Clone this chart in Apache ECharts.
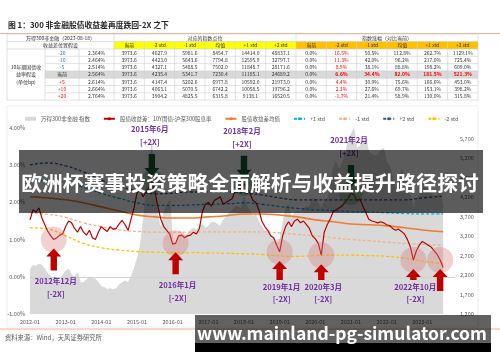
<!DOCTYPE html>
<html><head><meta charset="utf-8">
<script src="https://cdn.jsdelivr.net/npm/echarts@6/dist/echarts.min.js"></script>
<style>html,body{margin:0;padding:0;background:#fff}#c{width:500px;height:362px}</style>
</head><body><div id="c"></div>
<script>
// ---------------- DATA ----------------
const title = '图 1：300 非金融股债收益差再度跌回-2X 之下';
const sourceText = '资料来源：Wind，天风证券研究所';
const bannerText = '欧洲杯赛事投资策略全面解析与收益提升路径探讨';
const footerText = 'www.mainland-pg-simulator.com';

// table
const tableHead1 = ['万得300非金融（2023-08-18）', '对应的指数点位', '指数涨幅（对比当前）'];
const tableHead2Left = '收益差位置假设';
const stdHeaders = ['当前', '-2 std', '-1 std', '均值', '+1 std', '+2 std'];
const rowLabelLines = ['10年期国债收', '益率假设', '(单位bp)'];
const bpLabels = ['-20', '-10', '-5', '当前', '+5', '+10', '+20'];
const yieldLabels = ['2.364%', '2.464%', '2.514%', '2.564%', '2.614%', '2.664%', '2.764%'];
const indexPoints = [
  ['3973.6', '4627.9', '5981.6', '8454.7', '14414.0', '48837.1'],
  ['3973.6', '4423.0', '5643.6', '7794.8', '12595.9', '32797.7'],
  ['3973.6', '4327.1', '5488.5', '7502.0', '11848.7', '28171.6'],
  ['3973.6', '4235.4', '5341.7', '7230.4', '11185.1', '24689.2'],
  ['3973.6', '4147.4', '5202.6', '6977.8', '10592.0', '21973.0'],
  ['3973.6', '4063.1', '5070.5', '6742.2', '10058.5', '19796.2'],
  ['3973.6', '3904.2', '4825.5', '6315.8', '9138.1', '16520.5']
];
const indexGains = [
  ['0.0%', '16.5%', '50.5%', '112.8%', '262.7%', '1129.1%'],
  ['0.0%', '11.3%', '42.0%', '96.2%', '217.0%', '725.4%'],
  ['0.0%', '8.9%', '38.1%', '88.8%', '198.2%', '609.0%'],
  ['0.0%', '6.6%', '34.4%', '82.0%', '181.5%', '521.3%'],
  ['0.0%', '4.4%', '30.9%', '75.6%', '166.6%', '453.0%'],
  ['0.0%', '2.3%', '27.6%', '69.7%', '153.1%', '398.2%'],
  ['0.0%', '-1.7%', '21.4%', '58.9%', '130.0%', '315.8%']
];

// chart (monthly, 2012-01 .. 2023-08)
const xTickLabels = ['2012-01','2013-01','2014-01','2015-01','2016-01','2017-01','2018-01','2019-01','2020-01','2021-01','2022-01','2023-01'];
const leftTicks = ['-1.00%','0.00%','1.00%','2.00%','3.00%','4.00%'];
const seriesNames = ['万得300非金融 指数','股债收益差：10Y国债-沪深300股息率','股债收益差均值','+1 std','-1 std','+2 std','-2 std'];

const indexValues = [
  2330,2450,2420,2480,2450,2350,2230,2150,2140,2100,2020,2200,
  2300,2350,2200,2150,2250,2000,2000,2080,2150,2120,2100,2000,
  1900,1880,1830,1850,1820,1850,1950,2000,2050,2000,2150,2350,
  2600,2900,3500,4300,4900,5600,4400,3700,3400,3800,4000,4100,
  3100,3000,3200,3250,3200,3250,3350,3400,3350,3450,3500,3400,
  3450,3550,3550,3500,3450,3600,3700,3800,3850,3950,3950,3900,
  4200,3950,3850,3700,3750,3550,3450,3300,3350,3100,3150,3000,
  3100,3500,3900,4000,3600,3800,3850,3800,3900,3950,3950,4150,
  4150,4050,3900,4100,4100,4400,4950,5100,4900,5050,5300,5600,
  5800,5950,5450,5500,5650,5700,5350,5300,5250,5300,5400,5450,
  5100,5000,4700,4300,4500,4900,4700,4550,4250,3900,4150,4250,
  4550,4450,4400,4350,4200,4250,4300,3974
];
const spreadValues = [
  1.53,1.80,1.74,1.85,1.58,1.40,1.22,1.10,1.00,1.05,1.12,1.15,
  1.35,1.50,1.45,1.30,1.20,1.35,1.20,1.12,1.25,1.05,1.00,1.20,
  1.35,1.28,1.22,1.35,1.28,1.30,1.42,1.52,1.40,1.25,1.55,1.85,
  2.25,2.35,2.15,2.28,2.40,2.55,2.30,1.90,1.55,1.35,1.25,1.15,
  0.88,0.90,1.10,1.12,1.05,1.10,1.12,1.20,1.15,1.30,1.75,1.95,
  2.00,1.90,2.05,2.10,2.15,1.95,2.00,2.05,2.10,2.30,2.40,2.35,
  2.50,2.40,2.25,2.05,2.00,1.80,1.50,1.35,1.25,1.10,1.05,0.85,
  0.67,1.10,1.35,1.48,1.35,1.50,1.55,1.45,1.50,1.40,1.30,1.10,
  1.02,0.90,0.58,1.20,1.40,1.55,1.75,1.80,1.85,1.90,2.00,2.10,
  2.25,2.20,2.05,2.10,1.90,1.72,1.55,1.50,1.48,1.45,1.48,1.45,
  1.40,1.38,1.30,1.25,1.28,1.22,1.15,1.00,0.80,0.45,0.70,0.85,
  0.95,0.90,0.85,0.80,0.70,0.60,0.45,0.25
];
const bandMonths = [0,6,12,18,24,30,36,42,48,54,60,66,72,78,84,90,96,102,108,114,120,126,132,139];
const meanValues   = [2.15,2.12,2.07,1.99,1.88,1.77,1.66,1.61,1.58,1.58,1.61,1.64,1.69,1.69,1.66,1.61,1.53,1.48,1.42,1.40,1.37,1.32,1.26,1.21];
const plus1Values  = [2.58,2.59,2.53,2.41,2.24,2.11,1.99,1.92,1.92,1.93,1.95,1.96,1.99,1.95,1.89,1.84,1.80,1.78,1.75,1.74,1.72,1.70,1.69,1.69];
const minus1Values = [1.72,1.68,1.60,1.45,1.35,1.26,1.22,1.20,1.20,1.20,1.21,1.21,1.21,1.21,1.18,1.14,1.10,1.05,1.00,0.97,0.93,0.90,0.87,0.85];
const plus2Values  = [3.01,3.06,2.98,2.82,2.60,2.44,2.31,2.23,2.25,2.28,2.28,2.28,2.25,2.20,2.12,2.07,2.07,2.07,2.07,2.07,2.07,2.07,2.12,2.17];
const minus2Values = [1.32,1.28,1.10,0.90,0.78,0.72,0.68,0.66,0.65,0.65,0.64,0.63,0.62,0.60,0.56,0.55,0.57,0.58,0.58,0.57,0.55,0.50,0.42,0.35];

// signal annotations: label, month index where drawn (months since 2012-01)
const highSignals = [
  {label:'2015年6月', month:41},
  {label:'2018年2月', month:72},
  {label:'2021年2月', month:108}
];
const lowSignals = [
  {label:'2012年12月', month:8},
  {label:'2016年1月', month:49},
  {label:'2019年1月', month:84},
  {label:'2020年3月', month:98},
  {label:'2022年10月', month:129},
  {label:'', month:138}
];

// ---------------- CHART ----------------
const FONT = '"Noto Sans CJK SC","Noto Sans",sans-serif';
const chart = echarts.init(document.getElementById('c'), null, {renderer:'canvas'});
const pairs = (xs, ys) => ys.map((v, i) => [xs[i], v]);
const monthIdx = spreadValues.map((_, i) => i);

const bandColors = ['#ED7D31','#00B0F0','#F4B183','#2F5597','#FFC000'];
const bandSets = [meanValues, plus1Values, minus1Values, plus2Values, minus2Values];

const series = [
  {name:seriesNames[0], type:'line', yAxisIndex:1, symbol:'none', data:pairs(monthIdx, indexValues),
   lineStyle:{color:'#cfcfcf', width:0.6}, itemStyle:{color:'#d9d9d9'},
   areaStyle:{color:'#d9d9d9', opacity:1, origin:'start'}, z:1},
];
bandSets.forEach((vals, k) => {
  series.push({name:seriesNames[k+2], type:'line', symbol:'none', smooth:0.5, data:pairs(bandMonths, vals),
    itemStyle:{color:bandColors[k]},
    lineStyle:{color:bandColors[k], width:k === 0 ? 1.6 : 1.3, type:k === 0 ? 'solid' : [3,2]}, z:3});
});
series.push({name:seriesNames[1], type:'line', symbol:'none', data:pairs(monthIdx, spreadValues),
  itemStyle:{color:'#C00000'}, lineStyle:{color:'#C00000', width:1.2}, z:4,
  markLine:{silent:true, symbol:'none', label:{show:false}, lineStyle:{color:'#d0d0d0', width:0.8, type:'solid'},
    data:[{yAxis:0}]}});

chart.setOption({
  animation:false,
  backgroundColor:'#fff',
  textStyle:{fontFamily:FONT},
  grid:{left:30, right:45, top:128, bottom:48},
  legend:{top:111, left:20, itemWidth:11, itemHeight:4, itemGap:13,
    textStyle:{fontSize:5.5, color:'#595959', fontFamily:FONT},
    data:[{name:seriesNames[0], icon:'rect'}, seriesNames[1], seriesNames[2], seriesNames[3], seriesNames[4], seriesNames[5], seriesNames[6]]},
  xAxis:{type:'value', min:0, max:143, interval:12,
    axisLine:{show:true, lineStyle:{color:'#d9d9d9'}}, axisTick:{show:false}, splitLine:{show:false},
    axisLabel:{fontSize:5.5, color:'#595959', margin:5, showMaxLabel:false,
      formatter:v => xTickLabels[v / 12] || ''}},
  yAxis:[
    {type:'value', min:-1, max:4, interval:1, axisLine:{show:false}, axisTick:{show:false}, splitLine:{show:false},
     axisLabel:{fontSize:5.5, color:'#595959', margin:5, formatter:v => leftTicks[Math.round(v) + 1]}},
    {type:'value', min:1200, max:5970, interval:500, position:'right', axisLine:{show:false}, axisTick:{show:false}, splitLine:{show:false},
     axisLabel:{fontSize:5.5, color:'#595959', margin:5, showMaxLabel:false,
       formatter:v => v.toLocaleString('en-US')}}
  ],
  series:series
});

// ---------------- GRAPHICS ----------------
const G = [];
const txt = (x, y, text, o) => G.push(Object.assign({type:'text', x:x, y:y, silent:true, z:o && o.z || 60,
  style:{text:text, fill:(o && o.fill) || '#333', fontSize:(o && o.size) || 5, fontFamily:FONT,
    fontWeight:(o && o.bold) ? 'bold' : 'normal',
    align:(o && o.align) || 'center', verticalAlign:'middle', textAlign:(o && o.align) || 'center', textVerticalAlign:'middle'}}));
const rect = (x, y, w, h, fill, stroke, z) => G.push({type:'rect', silent:true, z:z || 40,
  shape:{x:x, y:y, width:w, height:h}, style:{fill:fill || 'none', stroke:stroke || 'none', lineWidth:0.6}});
const line = (x1, y1, x2, y2, color, w, z) => G.push({type:'line', silent:true, z:z || 41,
  shape:{x1:x1, y1:y1, x2:x2, y2:y2}, style:{stroke:color, lineWidth:w || 0.6}});

// title & separators
txt(8, 25, title, {size:7.8, bold:true, align:'left', fill:'#262626'});
line(0, 33.5, 500, 33.5, '#F4B183', 1);
line(0, 329, 500, 329, '#F4B183', 1);
txt(5, 337.5, sourceText, {size:6.3, align:'left', fill:'#595959'});
// chart frame
rect(7, 106, 471, 221, 'none', '#e3e3e3', 5);

// table
const colX = [7, 45, 79, 114];
for (let i = 1; i <= 12; i++) colX.push(114 + i * 30.33);
const rowTop = 34, h1 = 7.5, h2 = 7.5, rowH = 7.3;
const dataTop = rowTop + h1 + h2;
const rowY = r => dataTop + r * rowH;
rect(colX[1], rowY(3), colX[15] - colX[1], rowH, '#d9d9d9', null, 40);
for (let c = 0; c < 6; c++) {
  rect(colX[3 + c], rowTop + h1, colX[4 + c] - colX[3 + c], h2, '#FFFF00', null, 40);
  rect(colX[9 + c], rowTop + h1, colX[10 + c] - colX[9 + c], h2, '#FFC000', null, 40);
}
const gc = '#cfcfcf';
line(colX[0], rowTop, colX[15], rowTop, gc);
line(colX[0], rowTop + h1, colX[15], rowTop + h1, gc);
line(colX[0], dataTop, colX[15], dataTop, gc);
for (let r = 1; r <= 7; r++) line(r === 7 ? colX[0] : colX[1], rowY(r), colX[15], rowY(r), gc);
line(colX[0], rowTop, colX[0], rowY(7), gc);
line(colX[3], rowTop, colX[3], rowY(7), gc);
line(colX[9], rowTop, colX[9], rowY(7), gc);
line(colX[15], rowTop, colX[15], rowY(7), gc);
for (let c = 4; c < 15; c++) if (c !== 9) line(colX[c], rowTop + h1, colX[c], rowY(7), gc);
line(colX[1], dataTop, colX[1], rowY(7), gc);
line(colX[2], dataTop, colX[2], rowY(7), gc);
txt((colX[0] + colX[3]) / 2, rowTop + h1 / 2, tableHead1[0]);
txt((colX[3] + colX[9]) / 2, rowTop + h1 / 2, tableHead1[1]);
txt((colX[9] + colX[15]) / 2, rowTop + h1 / 2, tableHead1[2]);
txt((colX[0] + colX[3]) / 2, rowTop + h1 + h2 / 2, tableHead2Left);
stdHeaders.forEach((s, c) => {
  txt((colX[3 + c] + colX[4 + c]) / 2, rowTop + h1 + h2 / 2, s);
  txt((colX[9 + c] + colX[10 + c]) / 2, rowTop + h1 + h2 / 2, s);
});
rowLabelLines.forEach((s, i) => txt((colX[0] + colX[1]) / 2, rowY(3) + rowH / 2 + (i - 1) * 7.2, s));
bpLabels.forEach((s, r) => {
  const cy = rowY(r) + rowH / 2;
  const col = s.charAt(0) === '-' ? '#2E75B6' : (s.charAt(0) === '+' ? '#FF0000' : '#333');
  txt((colX[1] + colX[2]) / 2, cy, s, {fill:col});
  txt((colX[2] + colX[3]) / 2, cy, yieldLabels[r]);
  indexPoints[r].forEach((v, c) => txt((colX[3 + c] + colX[4 + c]) / 2, cy, v));
  indexGains[r].forEach((v, c) => {
    const red = (c === 1) || (r === 3 && c > 0);
    txt((colX[9 + c] + colX[10 + c]) / 2, cy, v, {fill:red ? '#FF0000' : '#333', bold:(r === 3 && c > 0)});
  });
});

// annotations
const toPx = (m, v) => chart.convertToPixel({xAxisIndex:0, yAxisIndex:0}, [m, v]);
const purple = '#7030A0';
lowSignals.forEach(s => {
  const p = toPx(s.month, spreadValues[s.month]);
  G.push({type:'circle', silent:true, z:45, shape:{cx:p[0], cy:p[1], r:13}, style:{fill:'rgba(214,120,120,0.35)'}});
  const l1 = Math.min(p[1] + 42, 287);
  const top = p[1] + 9;
  const bot = s.label ? Math.min(top + 22, l1 - 7) : top + 22;
  const cx = p[0];
  G.push({type:'polygon', silent:true, z:55, shape:{points:[[cx, top],[cx + 7.5, top + 8],[cx + 3.2, top + 8],[cx + 3.2, bot],[cx - 3.2, bot],[cx - 3.2, top + 8],[cx - 7.5, top + 8]]},
    style:{fill:'#C00000'}});
  if (s.label) {
    txt(cx + 2, l1, s.label, {size:7.6, bold:true, fill:purple});
    txt(cx + 2, l1 + 12.5, '[-2X]', {size:7.6, bold:true, fill:purple});
  }
});
highSignals.forEach(s => {
  const p = toPx(s.month, spreadValues[s.month]);
  G.push({type:'circle', silent:true, z:45, shape:{cx:p[0], cy:p[1], r:12}, style:{fill:'rgba(40,140,70,0.35)'}});
  const tip = p[1] - 6, top = tip - 22, cx = p[0];
  G.push({type:'polygon', silent:true, z:55, shape:{points:[[cx, tip],[cx + 7.5, tip - 8],[cx + 3.2, tip - 8],[cx + 3.2, top],[cx - 3.2, top],[cx - 3.2, tip - 8],[cx - 7.5, tip - 8]]},
    style:{fill:'#0F5E2E'}});
  txt(cx - 2, p[1] - 53, s.label, {size:7.6, bold:true, fill:purple});
  txt(cx - 2, p[1] - 40, '[+2X]', {size:7.6, bold:true, fill:purple});
});

// overlay banners
rect(19, 150, 464, 63, 'rgba(0,0,0,0.64)', null, 90);
txt(250, 183, bannerText, {size:20.8, bold:true, fill:'#ffffff', z:95});
rect(195, 315, 296, 28, 'rgba(0,0,0,0.62)', null, 90);
rect(195, 343, 296, 9, '#000000', null, 90);
txt(342, 333, footerText, {size:17.5, bold:true, fill:'#ffffff', z:95});

chart.setOption({graphic:{elements:G}});
</script>
</body></html>
